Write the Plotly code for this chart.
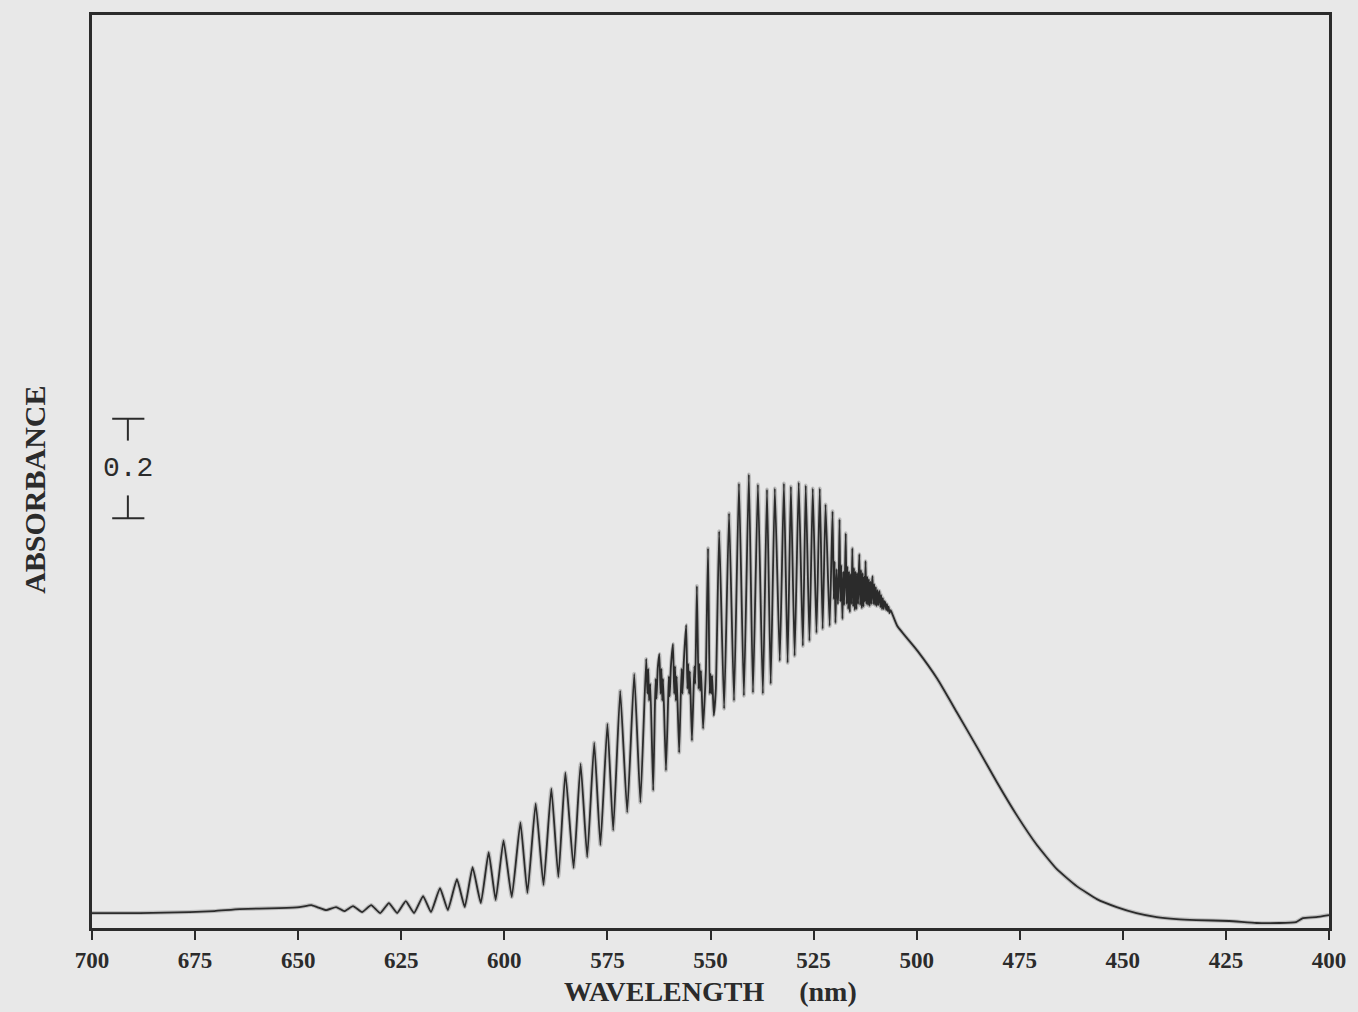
import plotly.graph_objects as go

# Wavelength (nm) and absorbance values
wavelength = [
    700.0, 688.4, 676.3, 670.3, 664.2, 654.6, 649.7, 646.8, 645.4, 643.2,
    640.8, 638.8, 636.7, 634.5, 632.3, 630.1, 628.0, 626.0, 623.9, 621.9,
    619.7, 617.8, 615.6, 613.7, 611.5, 609.6, 607.7, 605.7, 603.8, 602.1,
    600.2, 598.2, 596.1, 594.4, 592.4, 590.5, 588.6, 586.9, 585.2, 583.2,
    581.5, 579.9, 578.2, 576.7, 575.0, 573.6, 571.9, 570.2, 568.5, 567.0,
    565.6, 565.3, 565.1, 564.9, 564.6, 563.9, 563.5, 563.3, 563.1, 562.8,
    562.4, 562.1, 561.9, 561.7, 561.5, 560.8, 560.3, 560.1, 559.9, 559.6,
    559.1, 558.8, 558.6, 558.4, 558.2, 557.6, 557.2, 557.0, 556.8, 556.5,
    555.9, 555.6, 555.4, 555.2, 555.0, 554.5, 554.1, 553.9, 553.7, 553.3,
    552.9, 552.7, 552.5, 552.3, 551.8, 551.3, 551.1, 550.6, 550.2, 550.0,
    549.8, 549.6, 549.2, 548.7, 547.9, 546.7,
    545.5, 544.3, 543.1, 541.9, 540.7, 539.7, 538.5, 537.3, 536.3, 535.4,
    534.4, 533.2, 532.2, 531.3, 530.5, 529.6, 528.6, 527.6, 526.9, 526.0,
    525.2, 524.3, 523.5, 522.8, 522.1, 521.1,
    520.4, 520.1, 519.9, 519.7, 519.4, 519.1, 518.9,
    518.7, 518.5, 518.3, 518.0, 517.8, 517.6, 517.4,
    517.2, 517.0, 516.8, 516.6, 516.4, 516.2, 516.0, 515.8,
    515.6, 515.4, 515.2, 515.0, 514.8, 514.6, 514.4, 514.2, 514.05,
    513.9, 513.7, 513.5, 513.3, 513.1, 512.9, 512.7, 512.55,
    512.4, 512.2, 512.0, 511.8, 511.6, 511.4, 511.2, 511.0, 510.85,
    510.7, 510.5, 510.3, 510.1, 509.9, 509.7, 509.5, 509.3, 509.15,
    509.0, 508.8, 508.6, 508.4, 508.2, 508.0, 507.8,
    507.6, 507.4, 507.2, 507.0, 506.8, 506.6, 506.3, 505.9,
    504.7, 499.8, 495.0, 490.2, 485.3,
    480.5, 475.7, 470.8, 466.0, 461.2, 456.3, 451.5, 446.7, 441.8, 437.0,
    432.2, 424.2, 417.6, 412.1, 408.0, 406.3, 403.1, 400.0,
]
absorbance = [
    0.030, 0.030, 0.032, 0.034, 0.038, 0.040, 0.042, 0.046, 0.042, 0.036,
    0.042, 0.034, 0.044, 0.032, 0.046, 0.030, 0.050, 0.030, 0.054, 0.030,
    0.064, 0.032, 0.080, 0.036, 0.098, 0.042, 0.122, 0.050, 0.152, 0.056,
    0.176, 0.062, 0.212, 0.070, 0.250, 0.086, 0.280, 0.102, 0.312, 0.120,
    0.330, 0.142, 0.372, 0.166, 0.410, 0.196, 0.476, 0.232, 0.510, 0.252,
    0.540, 0.470, 0.520, 0.456, 0.490, 0.276, 0.440, 0.500, 0.460, 0.520,
    0.550, 0.470, 0.520, 0.456, 0.500, 0.316, 0.450, 0.505, 0.465, 0.525,
    0.570, 0.470, 0.525, 0.456, 0.505, 0.352, 0.470, 0.520, 0.470, 0.530,
    0.608, 0.480, 0.530, 0.470, 0.515, 0.376, 0.480, 0.525, 0.490, 0.686,
    0.480, 0.530, 0.476, 0.516, 0.400, 0.480, 0.520, 0.762, 0.470, 0.510,
    0.470, 0.506, 0.426, 0.480, 0.796, 0.440,
    0.832, 0.456, 0.892, 0.466, 0.910, 0.472, 0.890, 0.470, 0.880, 0.490,
    0.882, 0.536, 0.892, 0.532, 0.886, 0.546, 0.894, 0.566, 0.888, 0.576,
    0.882, 0.592, 0.882, 0.600, 0.850, 0.606,
    0.836, 0.660, 0.735, 0.612, 0.720, 0.650, 0.700,
    0.820, 0.655, 0.728, 0.620, 0.715, 0.648, 0.705,
    0.792, 0.650, 0.725, 0.640, 0.715, 0.634, 0.710, 0.650,
    0.762, 0.645, 0.722, 0.638, 0.715, 0.640, 0.712, 0.650, 0.705,
    0.750, 0.648, 0.718, 0.642, 0.712, 0.645, 0.705, 0.655,
    0.736, 0.650, 0.705, 0.648, 0.700, 0.646, 0.695, 0.650, 0.690,
    0.706, 0.650, 0.690, 0.648, 0.684, 0.646, 0.678, 0.648, 0.668,
    0.676, 0.644, 0.668, 0.640, 0.662, 0.640, 0.656,
    0.652, 0.638, 0.650, 0.636, 0.645, 0.632, 0.638, 0.630,
    0.606, 0.556, 0.500, 0.432, 0.362,
    0.292, 0.226, 0.166, 0.118, 0.084, 0.058, 0.042, 0.030, 0.022, 0.018,
    0.016, 0.014, 0.010, 0.010, 0.012, 0.020, 0.022, 0.026,
]

tick_values = [700, 675, 650, 625, 600, 575, 550, 525, 500, 475, 450, 425, 400]
tick_labels = ["700", "675", "650", "625", "600", "575", "550", "525",
               "500", "475", "450", "425", "400"]

scale_bar_value = 0.2

BG = "#e8e8e8"
INK = "#2b2b2b"

fig = go.Figure()
# soft halo (scan blur) under the trace
fig.add_trace(go.Scatter(
    x=wavelength, y=absorbance, mode="lines",
    line=dict(color=INK, width=4, shape="spline", smoothing=0.4),
    opacity=0.22, showlegend=False, hoverinfo="skip",
))
fig.add_trace(go.Scatter(
    x=wavelength, y=absorbance, mode="lines",
    line=dict(color=INK, width=1.8, shape="spline", smoothing=0.4),
    showlegend=False, hoverinfo="skip",
))

# scale bar (0.2 absorbance units)
bar_x = 691.3
bar_top = 1.022
bar_bot = bar_top - scale_bar_value
mid = (bar_top + bar_bot) / 2
line_style = dict(color=INK, width=2)
fig.add_shape(type="line", xref="x", yref="y", x0=bar_x, x1=bar_x,
              y0=bar_top, y1=mid + 0.056, line=line_style)
fig.add_shape(type="line", xref="x", yref="y", x0=bar_x, x1=bar_x,
              y0=mid - 0.054, y1=bar_bot, line=line_style)
fig.add_shape(type="line", xref="x", yref="y", x0=bar_x + 3.8, x1=bar_x - 4.0,
              y0=bar_top, y1=bar_top, line=line_style)
fig.add_shape(type="line", xref="x", yref="y", x0=bar_x + 3.8, x1=bar_x - 4.0,
              y0=bar_bot, y1=bar_bot, line=line_style)
fig.add_annotation(x=bar_x, y=mid, xref="x", yref="y", text=f"{scale_bar_value:.1f}",
                   showarrow=False, xanchor="center", yanchor="middle",
                   font=dict(family="Liberation Mono", size=28, color=INK))

# axis titles
fig.add_annotation(x=0.5, y=-0.07, xref="paper", yref="paper",
                   text="WAVELENGTH\u00a0\u00a0\u00a0\u00a0\u00a0(nm)", showarrow=False,
                   xanchor="center", yanchor="middle",
                   font=dict(family="Liberation Serif", size=28, color=INK, weight="bold"))
fig.add_annotation(x=-0.046, y=0.48, xref="paper", yref="paper",
                   text="ABSORBANCE", showarrow=False, textangle=-90,
                   xanchor="center", yanchor="middle",
                   font=dict(family="Liberation Serif", size=30, color=INK, weight="bold"))

fig.update_layout(
    width=1358, height=1012,
    margin=dict(l=92, r=25, t=12, b=84),
    paper_bgcolor=BG, plot_bgcolor=BG,
    xaxis=dict(
        range=[700, 400], tickvals=tick_values, ticktext=tick_labels,
        ticks="outside", ticklen=9, tickwidth=2, tickcolor=INK,
        showline=True, linewidth=3, linecolor=INK, mirror=True,
        showgrid=False, zeroline=False,
        tickfont=dict(family="Liberation Serif", size=23, color=INK, weight="bold"),
    ),
    yaxis=dict(
        range=[0, 1.832], showticklabels=False, ticks="",
        showline=True, linewidth=3, linecolor=INK, mirror=True,
        showgrid=False, zeroline=False,
    ),
)

fig.write_html(
    "out.html",
    config={"displayModeBar": False},
    post_script="document.body.style.margin='0';document.body.style.background='#e8e8e8';",
)
